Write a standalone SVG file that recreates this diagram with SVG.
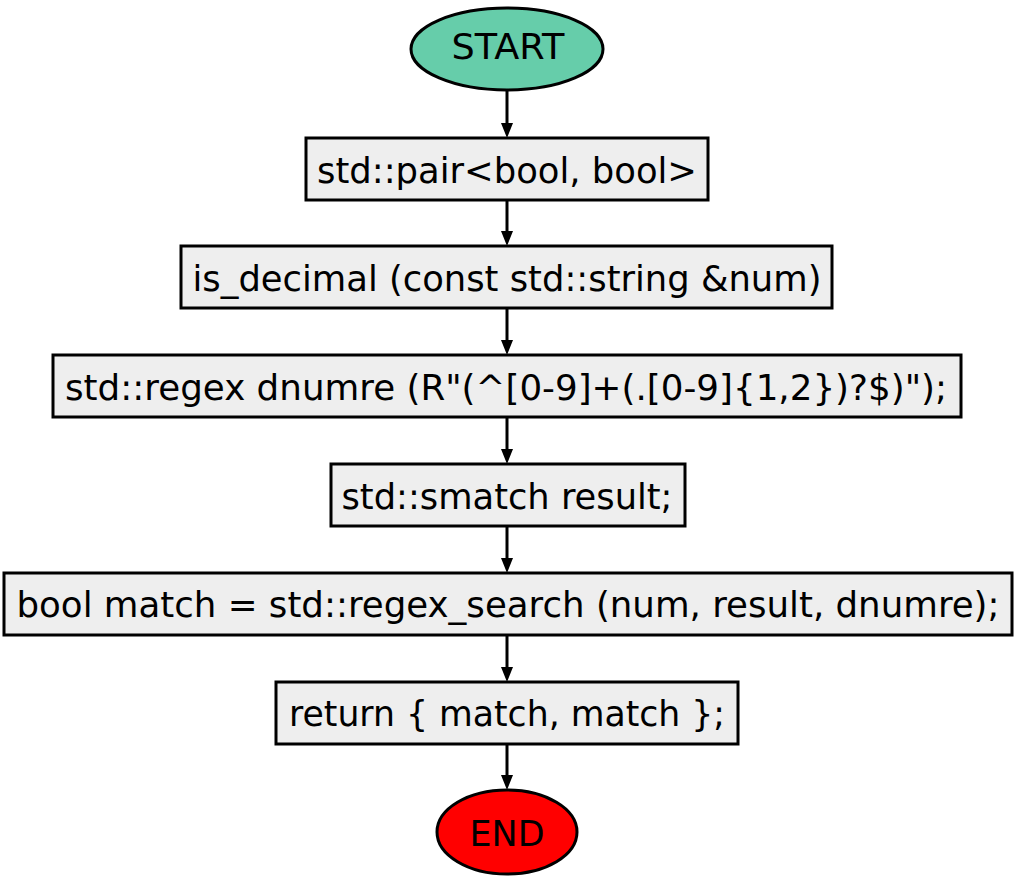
<svg xmlns="http://www.w3.org/2000/svg" width="1015" height="882" viewBox="0 0 1015 882">
<defs>
<marker id="arr" markerWidth="10" markerHeight="10" refX="9" refY="5" orient="auto" markerUnits="userSpaceOnUse" viewBox="0 0 10 10">
<path d="M0,0 L10,5 L0,10 Z" fill="#000"/>
</marker>
<style>
.box{fill:#eeeeee;stroke:#000;stroke-width:3}
.term{stroke:#000;stroke-width:3}
.t{font-family:"DejaVu Sans","Verdana",sans-serif;font-size:36px;fill:#000;text-anchor:middle}
.c{stroke:#000;stroke-width:3;fill:none}
</style>
</defs>
<rect width="1015" height="882" fill="#fff"/>
<g id="connectors">
<path class="c" d="M507,90 L507,124"/><path d="M501,123 L513,123 L507,138 Z"/>
<path class="c" d="M507,200 L507,232"/><path d="M501,231 L513,231 L507,246 Z"/>
<path class="c" d="M507,308 L507,341"/><path d="M501,340 L513,340 L507,355 Z"/>
<path class="c" d="M507,417 L507,450"/><path d="M501,449 L513,449 L507,464 Z"/>
<path class="c" d="M507,526 L507,559"/><path d="M501,558 L513,558 L507,573 Z"/>
<path class="c" d="M507,635 L507,668"/><path d="M501,667 L513,667 L507,682 Z"/>
<path class="c" d="M507,744 L507,776"/><path d="M501,775 L513,775 L507,790 Z"/>
</g>
<g id="start">
<ellipse class="term" cx="507" cy="49" rx="96" ry="41" fill="#66cdaa"/>
<text class="t" x="508" y="59" textLength="113" lengthAdjust="spacingAndGlyphs">START</text>
</g>
<g id="n1">
<rect class="box" x="306" y="138" width="402" height="62"/>
<text class="t" x="507" y="183" textLength="380" lengthAdjust="spacingAndGlyphs">std::pair&lt;bool, bool&gt;</text>
</g>
<g id="n2">
<rect class="box" x="181" y="246" width="651" height="62"/>
<text class="t" x="507" y="291" textLength="629" lengthAdjust="spacingAndGlyphs">is_decimal (const std::string &amp;num)</text>
</g>
<g id="n3">
<rect class="box" x="53" y="355" width="908" height="62"/>
<text class="t" x="506" y="400" textLength="882" lengthAdjust="spacingAndGlyphs">std::regex dnumre (R"(^[0-9]+(.[0-9]{1,2})?$)");</text>
</g>
<g id="n4">
<rect class="box" x="331" y="464" width="354" height="62"/>
<text class="t" x="507" y="509" textLength="331" lengthAdjust="spacingAndGlyphs">std::smatch result;</text>
</g>
<g id="n5">
<rect class="box" x="4" y="573" width="1008" height="62"/>
<text class="t" x="508" y="617" textLength="983" lengthAdjust="spacingAndGlyphs">bool match = std::regex_search (num, result, dnumre);</text>
</g>
<g id="n6">
<rect class="box" x="276" y="682" width="462" height="62"/>
<text class="t" x="507" y="726" textLength="436" lengthAdjust="spacingAndGlyphs">return { match, match };</text>
</g>
<g id="end">
<ellipse class="term" cx="507" cy="832" rx="70" ry="42" fill="#ff0000"/>
<text class="t" x="507" y="846" textLength="75" lengthAdjust="spacingAndGlyphs">END</text>
</g>
</svg>
